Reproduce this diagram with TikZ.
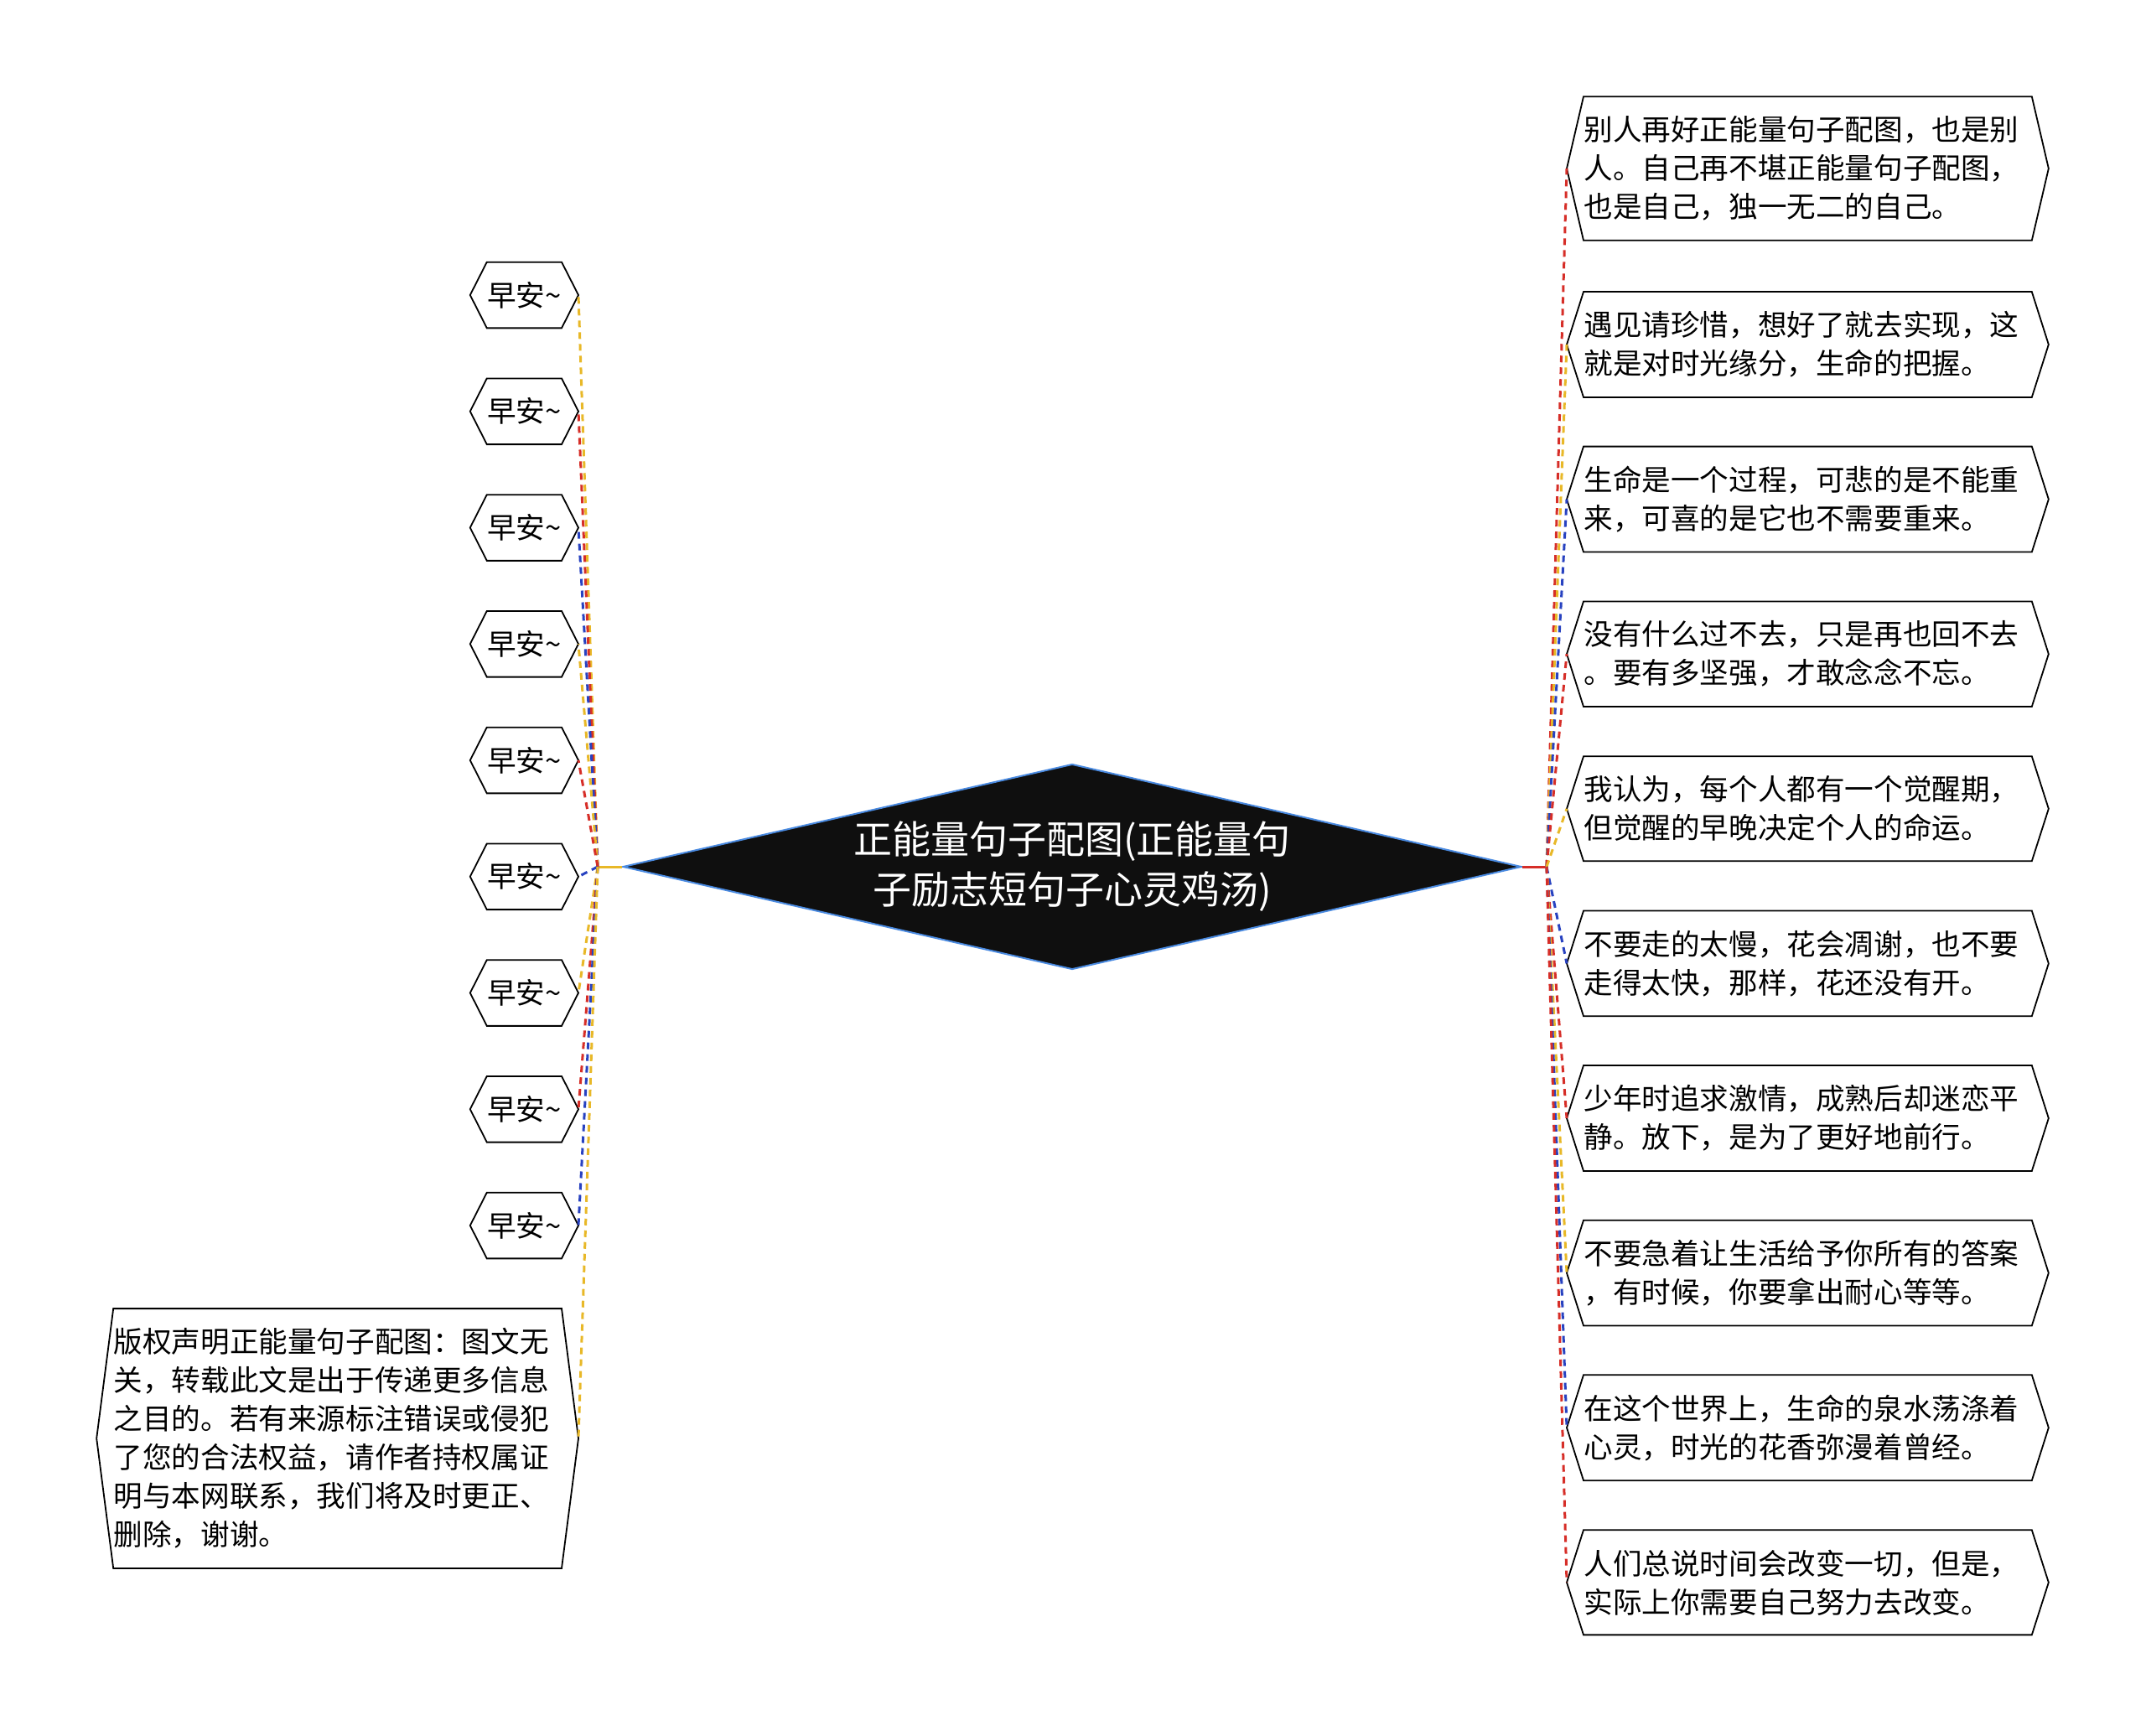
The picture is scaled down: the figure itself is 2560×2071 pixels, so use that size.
\documentclass[tikz,border=0pt]{standalone}
\usepackage{fontspec}
\setmainfont{Noto Sans CJK SC}
\usetikzlibrary{shapes.geometric}
\definecolor{lineyellow}{RGB}{232,184,40}
\definecolor{linered}{RGB}{214,46,40}
\definecolor{lineblue}{RGB}{40,66,192}
\definecolor{rootfill}{RGB}{15,15,15}
\definecolor{rootline}{RGB}{74,138,224}

\begin{document}
\begin{tikzpicture}[x=0.5pt, y=-0.5pt,
    hexbox/.style={font=\fontsize{17.3pt}{23pt}\selectfont, align=left, inner xsep=10pt, inner ysep=11.5pt,
      append after command={\pgfextra{\draw[line width=0.9pt, line join=miter]
        (\tikzlastnode.west) -- ([xshift=10pt]\tikzlastnode.north west) -- ([xshift=-10pt]\tikzlastnode.north east)
        -- (\tikzlastnode.east) -- ([xshift=-10pt]\tikzlastnode.south east) -- ([xshift=10pt]\tikzlastnode.south west) -- cycle;}}},
    widebox/.style={hexbox, text width=267pt},
    link/.style={line width=1.5pt, dash pattern=on 4pt off 3pt},
    stub/.style={line width=1.5pt}]
              \useasboundingbox (0,0) rectangle (2560,2071);
              % Root diamond
              \node[diamond, aspect=4.4, minimum width=536pt, minimum height=122.5pt, inner sep=0pt,
                    fill=rootfill, draw=rootline, line width=1pt, text=white, align=center,
                    font=\fontsize{23pt}{30pt}\selectfont] (root) at (1279,1034) {正能量句子配图(正能量句\\子励志短句子心灵鸡汤)};
              % Junctions
              \coordinate (jl) at (713,1034);
              \coordinate (jr) at (1845,1034);
              % Left side
              \node[hexbox, anchor=east] (l1) at (690,352) {早安\textasciitilde};
              \node[hexbox, anchor=east] (l2) at (690,490.75) {早安\textasciitilde};
              \node[hexbox, anchor=east] (l3) at (690,629.5) {早安\textasciitilde};
              \node[hexbox, anchor=east] (l4) at (690,768.25) {早安\textasciitilde};
              \node[hexbox, anchor=east] (l5) at (690,907) {早安\textasciitilde};
              \node[hexbox, anchor=east] (l6) at (690,1045.75) {早安\textasciitilde};
              \node[hexbox, anchor=east] (l7) at (690,1184.5) {早安\textasciitilde};
              \node[hexbox, anchor=east] (l8) at (690,1323.25) {早安\textasciitilde};
              \node[hexbox, anchor=east] (l9) at (690,1462) {早安\textasciitilde};
              \node[widebox, anchor=east] (notice) at (690,1716) {版权声明正能量句子配图：图文无\\关，转载此文是出于传递更多信息\\之目的。若有来源标注错误或侵犯\\了您的合法权益，请作者持权属证\\明与本网联系，我们将及时更正、\\删除，谢谢。};
              % Right side
              \node[widebox, anchor=west] (r1) at (1869,201) {别人再好正能量句子配图，也是别\\人。自己再不堪正能量句子配图，\\也是自己，独一无二的自己。};
              \node[widebox, anchor=west] (r2) at (1869,411) {遇见请珍惜，想好了就去实现，这\\就是对时光缘分，生命的把握。};
              \node[widebox, anchor=west] (r3) at (1869,595.6) {生命是一个过程，可悲的是不能重\\来，可喜的是它也不需要重来。};
              \node[widebox, anchor=west] (r4) at (1869,780.2) {没有什么过不去，只是再也回不去\\。要有多坚强，才敢念念不忘。};
              \node[widebox, anchor=west] (r5) at (1869,964.8) {我认为，每个人都有一个觉醒期，\\但觉醒的早晚决定个人的命运。};
              \node[widebox, anchor=west] (r6) at (1869,1149.4) {不要走的太慢，花会凋谢，也不要\\走得太快，那样，花还没有开。};
              \node[widebox, anchor=west] (r7) at (1869,1334) {少年时追求激情，成熟后却迷恋平\\静。放下，是为了更好地前行。};
              \node[widebox, anchor=west] (r8) at (1869,1518.6) {不要急着让生活给予你所有的答案\\，有时候，你要拿出耐心等等。};
              \node[widebox, anchor=west] (r9) at (1869,1703.2) {在这个世界上，生命的泉水荡涤着\\心灵，时光的花香弥漫着曾经。};
              \node[widebox, anchor=west] (r10) at (1869,1887.8) {人们总说时间会改变一切，但是，\\实际上你需要自己努力去改变。};
              % Stubs
              \draw[stub, lineyellow] (root.west) -- (jl);
              \draw[stub, linered] (root.east) -- (jr);
              % Left links
              \draw[link, lineyellow] (jl) -- (l1.east);
              \draw[link, linered] (jl) -- (l2.east);
              \draw[link, lineblue] (jl) -- (l3.east);
              \draw[link, lineyellow] (jl) -- (l4.east);
              \draw[link, linered] (jl) -- (l5.east);
              \draw[link, lineblue] (jl) -- (l6.east);
              \draw[link, lineyellow] (jl) -- (l7.east);
              \draw[link, linered] (jl) -- (l8.east);
              \draw[link, lineblue] (jl) -- (l9.east);
              \draw[link, lineyellow] (jl) -- (notice.east);
              % Right links
              \draw[link, linered] (jr) -- (r1.west);
              \draw[link, lineyellow] (jr) -- (r2.west);
              \draw[link, lineblue] (jr) -- (r3.west);
              \draw[link, linered] (jr) -- (r4.west);
              \draw[link, lineyellow] (jr) -- (r5.west);
              \draw[link, lineblue] (jr) -- (r6.west);
              \draw[link, linered] (jr) -- (r7.west);
              \draw[link, lineyellow] (jr) -- (r8.west);
              \draw[link, lineblue] (jr) -- (r9.west);
              \draw[link, linered] (jr) -- (r10.west);
\end{tikzpicture}
\end{document}
